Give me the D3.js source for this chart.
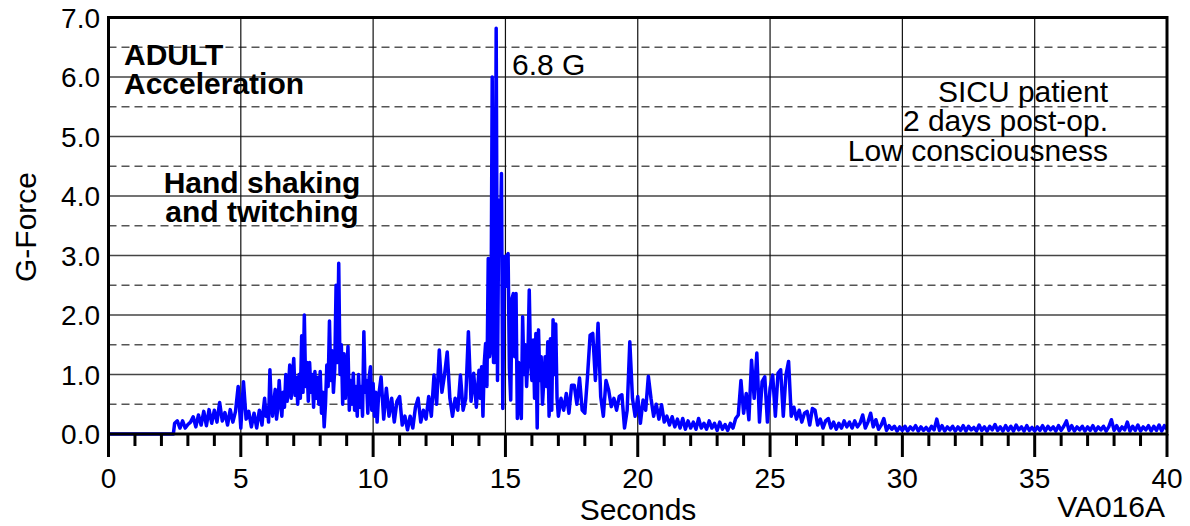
<!DOCTYPE html>
<html><head><meta charset="utf-8">
<script src="https://cdn.jsdelivr.net/npm/d3@7"></script>
<style>body{margin:0;background:#fff}svg{display:block}text{font-family:"Liberation Sans",Arial,sans-serif}</style>
</head><body><svg id="c" width="1190" height="526"></svg>
<script>
// ---- data ----
const yTicks = ["0.0","1.0","2.0","3.0","4.0","5.0","6.0","7.0"];
const xTicks = [0,5,10,15,20,25,30,35,40];
// leading quiet period
const quietTimes = [0, 2.45];
const quietValues = [0, 0];
// 2.5 .. 5.7 s, every 0.1 s
const segA1Start = 2.5, segA1Step = 0.1;
const segA1 = [0.18,0.22,0.10,0.22,0.10,0.16,0.20,0.29,0.12,0.32,0.15,0.38,0.14,0.41,0.18,0.40,0.20,0.53,0.22,0.36,
0.15,0.41,0.20,0.38,0.80,0.10,0.88,0.25,0.38,0.12,0.35,0.10,0.40];
// 5.75 .. 10.2 s, every 0.05 s
const segA2Start = 5.75, segA2Step = 0.05;
const segA2 = [0.30,0.15,0.40,0.60,0.30,0.45,0.20,1.08,0.50,0.30,0.55,0.75,0.25,0.45,0.90,0.55,0.30,0.70,0.45,1.00,
0.55,0.80,1.16,0.60,0.90,1.27,0.65,0.95,0.50,1.00,0.60,1.65,0.70,2.00,0.80,1.20,0.55,1.20,0.70,1.00,
0.45,1.05,0.60,0.95,0.50,1.05,0.35,0.70,0.12,0.50,1.16,0.80,1.90,0.90,1.40,0.70,1.10,2.50,1.20,2.87,
1.00,1.50,0.50,1.35,0.60,1.00,1.47,0.40,0.90,0.50,1.02,0.40,0.80,0.30,1.00,0.45,0.80,0.30,1.72,0.70,
0.90,0.35,0.95,1.13,0.40,0.85,0.30,0.70,0.20,0.60];
// 10.3 .. 13.9 s, every 0.1 s
const segA3Start = 10.3, segA3Step = 0.1;
const segA3 = [0.96,0.25,0.77,0.30,0.60,0.20,0.55,0.63,0.15,0.30,0.07,0.30,0.10,0.45,0.60,0.20,0.40,0.25,0.63,0.30,
0.99,0.50,1.41,0.70,1.00,1.38,0.60,0.30,0.60,0.40,0.99,0.40,0.60,1.72,0.55,1.02,0.45];
// 14.0 .. 15.45 s, every 0.05 s (main burst)
const segBStart = 14.0, segBStep = 0.05;
const segB = [1.07,0.60,1.13,0.30,1.19,1.52,0.80,2.95,1.30,1.45,6.00,1.20,1.20,6.82,0.90,3.93,3.00,4.38,0.43,2.98,
2.48,3.00,3.03,1.10,0.57,2.28,2.36,1.30,2.36,0.26];
// 15.5 .. 17.0 s, every 0.05 s
const segC1Start = 15.5, segC1Step = 0.05;
const segC1 = [1.20,0.50,0.26,1.97,1.00,1.50,0.80,1.30,2.42,1.20,0.90,1.58,0.60,1.69,0.10,1.75,0.90,1.30,0.50,0.90,
1.30,0.80,1.55,0.30,1.60,0.40,1.92,1.00,1.85,0.60,0.30];
// 17.1 .. 27.9 s, every 0.1 s
const segC2Start = 17.1, segC2Step = 0.1;
const segC2 = [0.60,0.40,0.68,0.35,
0.82,0.82,0.50,0.94,0.40,0.35,0.96,1.66,1.69,0.90,1.86,0.63,0.30,0.90,0.74,0.46,0.60,0.40,0.63,0.66,
0.10,0.40,1.55,0.60,0.30,0.63,0.18,0.57,0.40,0.97,0.60,0.30,0.50,0.25,0.49,0.20,0.30,0.15,0.29,0.12,
0.25,0.10,0.26,0.08,0.22,0.10,0.20,0.08,0.26,0.10,0.18,0.08,0.22,0.10,0.18,0.06,0.20,0.08,0.16,0.06,
0.18,0.10,0.26,0.32,0.90,0.35,0.68,0.24,1.24,0.60,1.36,0.20,0.88,0.96,0.20,0.77,0.99,0.30,1.02,1.08,
0.30,0.99,1.22,0.30,0.45,0.25,0.40,0.20,0.35,0.38,0.15,0.43,0.40,0.15,0.25,0.10,0.22,0.26,0.10,0.20,
0.08,0.18,0.10,0.22,0.12];
// 28.0 .. 40.0 s, every 0.1 s (quiet tail)
const segDStart = 28.0, segDStep = 0.1;
const segD = [0.20,0.10,0.22,0.12,0.18,0.32,0.10,0.20,0.35,0.12,0.24,0.08,0.15,0.26,0.06,0.14,0.08,0.13,0.05,0.12,
0.06,0.13,0.05,0.12,0.07,0.14,0.05,0.12,0.06,0.11,0.05,0.13,0.07,0.25,0.06,0.14,0.05,0.12,0.07,0.13,
0.05,0.12,0.06,0.14,0.05,0.13,0.07,0.11,0.05,0.15,0.06,0.12,0.05,0.13,0.07,0.16,0.06,0.12,0.05,0.14,
0.06,0.13,0.05,0.15,0.07,0.12,0.05,0.14,0.06,0.11,0.05,0.12,0.06,0.14,0.05,0.13,0.07,0.12,0.05,0.14,
0.06,0.13,0.22,0.06,0.14,0.05,0.12,0.07,0.13,0.05,0.12,0.06,0.14,0.05,0.12,0.07,0.13,0.05,0.12,0.24,
0.06,0.14,0.05,0.12,0.07,0.20,0.05,0.13,0.06,0.15,0.05,0.12,0.07,0.14,0.05,0.13,0.06,0.15,0.05,0.14,0.08];

// ---- build series ----
const pts = [];
quietTimes.forEach((t,i)=>pts.push([t, quietValues[i]]));
[[segA1Start,segA1Step,segA1],[segA2Start,segA2Step,segA2],[segA3Start,segA3Step,segA3],
 [segBStart,segBStep,segB],[segC1Start,segC1Step,segC1],[segC2Start,segC2Step,segC2],[segDStart,segDStep,segD]]
  .forEach(([s,st,arr])=>arr.forEach((v,i)=>pts.push([+(s+i*st).toFixed(3), v])));

// ---- layout ----
const svg = d3.select("#c");
const L=108.5, R=1167, T=17.5, B=434;
const x = d3.scaleLinear().domain([0,40]).range([L,R]);
const y = d3.scaleLinear().domain([0,7]).range([B,T]);

// dashed half grid
svg.append("g").selectAll("line").data(d3.range(0.5,7,1)).join("line")
  .attr("x1",L).attr("x2",R).attr("y1",d=>y(d)).attr("y2",d=>y(d))
  .attr("stroke","#555").attr("stroke-width",1.3).attr("stroke-dasharray","8,5");
// solid integer grid
svg.append("g").selectAll("line").data(d3.range(1,7)).join("line")
  .attr("x1",L).attr("x2",R).attr("y1",d=>y(d)).attr("y2",d=>y(d))
  .attr("stroke","#444").attr("stroke-width",1.5);
// vertical grid
svg.append("g").selectAll("line").data(xTicks.slice(1,-1)).join("line")
  .attr("x1",d=>x(d)).attr("x2",d=>x(d)).attr("y1",T).attr("y2",B)
  .attr("stroke","#111").attr("stroke-width",1.2);

// annotations
const ann = svg.append("g").attr("fill","#000").attr("font-size",30);
ann.append("text").attr("x",124).attr("y",65).attr("font-weight","bold").text("ADULT");
ann.append("text").attr("x",124).attr("y",94).attr("font-weight","bold").text("Acceleration");
ann.append("text").attr("x",262).attr("y",193).attr("font-weight","bold").attr("text-anchor","middle").text("Hand shaking");
ann.append("text").attr("x",262).attr("y",222).attr("font-weight","bold").attr("text-anchor","middle").text("and twitching");
ann.append("text").attr("x",512).attr("y",75).text("6.8 G");
ann.append("text").attr("x",1108).attr("y",102).attr("text-anchor","end").text("SICU patient");
ann.append("text").attr("x",1108).attr("y",131).attr("text-anchor","end").text("2 days post-op.");
ann.append("text").attr("x",1108).attr("y",161).attr("text-anchor","end").text("Low consciousness");

// trace
svg.append("clipPath").attr("id","clip").append("rect").attr("x",L).attr("y",T).attr("width",R-L).attr("height",B-T+2);
svg.append("path").datum(pts).attr("clip-path","url(#clip)")
  .attr("d", d3.line().x(d=>x(d[0])).y(d=>y(d[1])))
  .attr("fill","none").attr("stroke","#0000ff").attr("stroke-width",3.5).attr("stroke-linejoin","round");

// frame
svg.append("rect").attr("x",L).attr("y",T).attr("width",R-L).attr("height",B-T)
  .attr("fill","none").attr("stroke","#000").attr("stroke-width",3);

// x axis ticks
const xAxis = svg.append("g").attr("transform",`translate(0,${B})`);
xAxis.selectAll("line").data(d3.range(0,41)).join("line")
  .attr("x1",d=>x(d)).attr("x2",d=>x(d)).attr("y1",0).attr("y2",d=>d%5===0?23:12)
  .attr("stroke","#000").attr("stroke-width",3);
xAxis.selectAll("text").data(xTicks).join("text")
  .attr("x",d=>x(d)).attr("y",54).attr("text-anchor","middle").attr("font-size",28).text(d=>d);

// y labels
svg.append("g").selectAll("text").data(yTicks).join("text")
  .attr("x",100).attr("y",(d,i)=>y(i)+10).attr("text-anchor","end").attr("font-size",28).text(d=>d);

// axis titles
svg.append("text").attr("x",638).attr("y",520).attr("text-anchor","middle").attr("font-size",30).text("Seconds");
svg.append("text").attr("x",1165).attr("y",517).attr("text-anchor","end").attr("font-size",30).text("VA016A");
svg.append("text").attr("transform","translate(36,227) rotate(-90)").attr("text-anchor","middle").attr("font-size",30).text("G-Force");
</script></body></html>
